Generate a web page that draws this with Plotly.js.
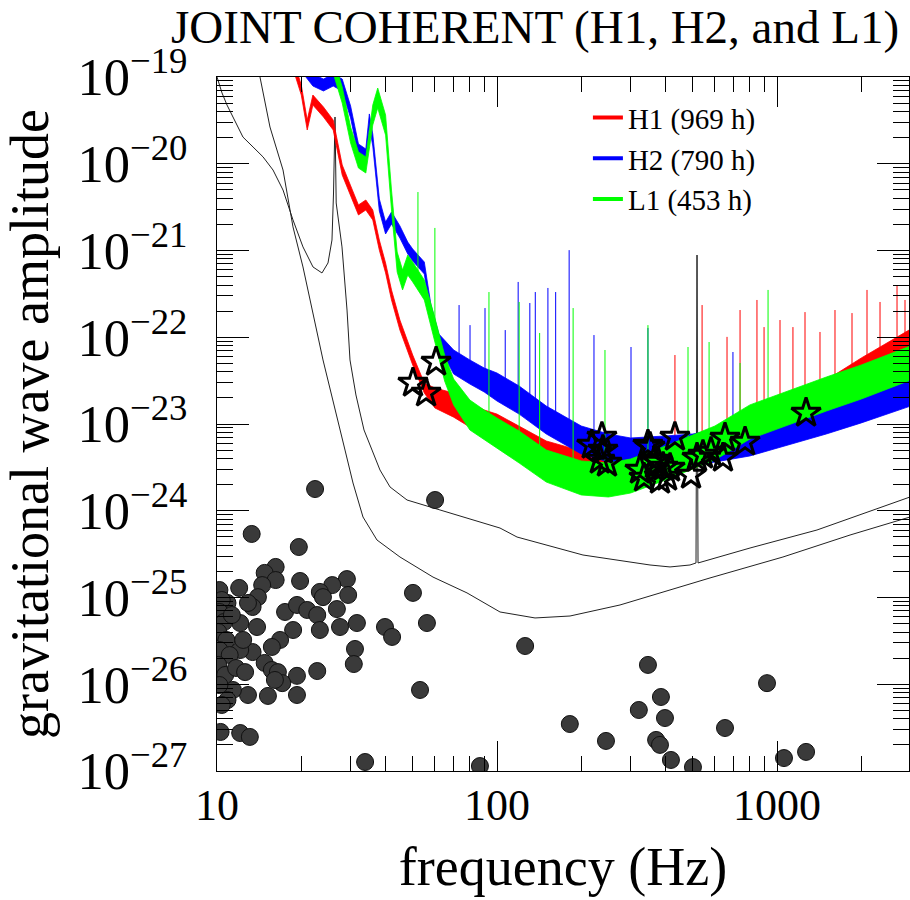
<!DOCTYPE html>
<html>
<head>
<meta charset="utf-8">
<script src="https://cdn.plot.ly/plotly-3.0.1.min.js"></script>
<style>html,body{margin:0;padding:0;background:#fff}#chart{width:910px;height:900px}</style>
</head>
<body>
<div id="chart"></div>
<script>
// ---------- reference sensitivity curves (thin black lines) ----------
const curveAFreq = [10,10.42,10.86,11.40,12.38,13.45,14.60,15.85,17.21,18.68,20.28,22.02,23.71,24.91,25.74,26.07,26.28,26.39,26.65,27.95,29.13,29.85,31.35,33.50,35.78,38.20,41.49,47.72,59.08,78.13,102.5,117.9,202.8,351.9,414.9,489.0,513.7,518.0,522.3,801.1,1389,2985];
const curveAAmp  = [1.0e-19,6.55e-20,4.75e-20,3.46e-20,2.03e-20,1.56e-20,1.20e-20,8.47e-21,4.98e-21,2.25e-21,1.10e-21,6.46e-22,5.51e-22,7.18e-22,1.32e-21,4.60e-21,1.73e-20,3.46e-20,3.53e-21,1.10e-21,2.06e-22,5.47e-23,2.16e-23,8.53e-24,5.01e-24,2.95e-24,1.88e-24,1.33e-24,1.08e-24,8.24e-25,6.32e-25,4.98e-25,3.09e-25,2.37e-25,2.25e-25,2.37e-25,2.50e-25,8.87e-22,2.50e-25,3.72e-25,6.00e-25,1.44e-24];
const curveBFreq = [14.24,15.46,17.21,18.68,20.28,22.02,23.91,28.65,30.60,33.22,37.27,45.03,59.08,78.13,102.5,136.7,182.3,275.0,576.4,1050,1823,2985];
const curveBAmp  = [1.0e-19,2.65e-20,8.47e-21,1.87e-21,6.46e-22,1.91e-22,5.47e-23,5.01e-24,2.09e-24,8.47e-25,4.60e-25,2.93e-25,1.72e-25,1.13e-25,6.81e-26,5.81e-26,6.12e-26,8.20e-26,1.68e-25,2.93e-25,5.25e-25,8.47e-25];

// ---------- detector noise bands (upper / lower envelopes) ----------
const h1Freq  = [19,20,21,22,24,26,28,30,32,34,36,38,40,42,45,50,55,60,70,80,90,100,120,150,200,250,300,400,500,600,800,1000,1500,2000,3000];
const h1Upper = [1.37e-19,8.09e-20,3.19e-20,6.20e-20,4.51e-20,3.19e-20,9.68e-21,5.69e-21,3.35e-21,3.82e-21,2.93e-21,1.32e-21,7.18e-22,3.51e-22,1.58e-22,6.24e-23,2.97e-23,2.60e-23,2.28e-23,1.75e-23,1.45e-23,1.30e-23,9.48e-24,6.37e-24,4.89e-24,4.28e-24,4.28e-24,5.15e-24,6.37e-24,8.30e-24,1.17e-23,1.61e-23,3.21e-23,5.77e-23,1.24e-22];
const h1Lower = [1.05e-19,6.20e-20,2.45e-20,4.75e-20,3.46e-20,2.45e-20,7.42e-21,4.36e-21,2.57e-21,2.93e-21,2.25e-21,1.01e-21,5.51e-22,2.69e-22,1.21e-22,4.79e-23,2.28e-23,1.53e-23,1.20e-23,9.23e-24,7.67e-24,6.21e-24,4.51e-24,3.03e-24,2.32e-24,2.03e-24,2.03e-24,2.45e-24,3.03e-24,3.95e-24,5.57e-24,7.67e-24,1.53e-23,2.74e-23,6.24e-23];

const h2Freq  = [20,22,24,26,28,30,32,34,35,36,38,40,42,45,48,50,55,58,62,70,80,90,100,120,150,200,250,300,400,500,600,800,1000,1500,2000,3000];
const h2Upper = [1.61e-19,1.08e-19,9.48e-20,1.08e-19,9.48e-20,4.63e-20,1.69e-20,1.48e-20,3.75e-20,2.20e-20,3.93e-21,2.13e-21,2.78e-21,1.92e-21,1.25e-21,1.04e-21,7.37e-22,2.42e-22,1.09e-22,7.13e-23,5.47e-23,4.42e-23,3.87e-23,2.74e-23,1.61e-23,9.48e-24,7.67e-24,6.90e-24,7.28e-24,7.67e-24,8.53e-24,1.00e-23,1.24e-23,1.79e-23,2.40e-23,3.77e-23];
const h2Lower = [1.17e-19,7.87e-20,6.90e-20,7.87e-20,6.90e-20,3.37e-20,1.23e-20,1.08e-20,2.72e-20,1.60e-20,2.85e-21,1.55e-21,2.02e-21,1.39e-21,9.12e-22,7.57e-22,5.36e-22,1.76e-22,7.93e-23,3.77e-23,2.89e-23,2.34e-23,1.84e-23,1.30e-23,7.67e-24,4.51e-24,3.65e-24,3.28e-24,3.11e-24,3.28e-24,3.65e-24,4.28e-24,5.29e-24,7.67e-24,1.03e-23,1.61e-23];

const l1Freq  = [26,28,30,32,34,36,37.5,40,42,44,46,48,50,55,60,65,70,80,90,100,120,150,200,250,300,400,500,600,800,1000,1500,2000,3000];
const l1Upper = [1.70e-19,7.67e-20,2.65e-20,1.37e-20,1.20e-20,4.75e-20,7.46e-20,3.65e-20,4.98e-21,9.61e-22,5.96e-22,8.87e-22,7.37e-22,4.57e-22,1.67e-22,6.24e-23,3.30e-23,1.89e-23,1.45e-23,1.17e-23,8.30e-24,5.01e-24,3.75e-24,3.55e-24,3.95e-24,5.57e-24,7.46e-24,9.48e-24,1.66e-23,2.16e-23,3.48e-23,4.79e-23,7.93e-23];
const l1Lower = [1.11e-19,5.01e-20,1.73e-20,8.93e-21,7.82e-21,2.80e-20,4.39e-20,2.14e-20,2.93e-21,5.65e-22,3.51e-22,5.22e-22,4.34e-22,2.69e-22,8.81e-23,3.13e-23,1.66e-23,8.53e-24,6.54e-24,5.29e-24,3.55e-24,2.14e-24,1.52e-24,1.44e-24,1.60e-24,2.26e-24,3.03e-24,3.85e-24,6.71e-24,8.75e-24,1.41e-23,1.94e-23,3.21e-23];

// ---------- narrow spectral lines (frequency, foot, top) ----------
const h1LineFreq = [432,540,663,738,848,899,1025,1140,1259,1424,1611,1853,2096,2333,2683,2865];
const h1LineFoot = [3.85e-24,5.73e-24,8.53e-24,7.46e-24,9.73e-24,1.11e-23,1.27e-23,1.45e-23,1.66e-23,1.89e-23,2.16e-23,2.60e-23,3.05e-23,3.67e-23,4.79e-23,5.47e-23];
const h1LineTop  = [6.24e-23,2.35e-22,1.01e-22,2.06e-22,2.69e-22,1.31e-22,1.58e-22,1.31e-22,1.95e-22,1.15e-22,2.06e-22,1.90e-22,3.51e-22,2.55e-22,4.00e-22,2.69e-22];
const h2LineFreq = [73.2,80.1,90.6,107,119,131,137,152,162,181,222,301,346,696];
const h2LineFoot = [4.79e-23,4.19e-23,3.21e-23,2.47e-23,1.89e-23,1.45e-23,1.27e-23,1.11e-23,9.73e-24,6.54e-24,6.04e-24,4.75e-24,5.01e-24,6.54e-24];
const h2LineTop  = [2.35e-22,1.38e-22,2.17e-22,1.21e-22,4.34e-22,2.48e-22,3.32e-22,3.70e-22,3.32e-22,1.01e-21,1.06e-22,7.72e-23,1.28e-22,6.76e-23];
const l1LineFreq = [52.2,60.0,93.6,120,142,187,243,346,481,572,738,929];
const l1LineFoot = [5.22e-22,1.21e-22,8.99e-24,5.43e-24,3.85e-24,2.58e-24,2.26e-24,2.95e-24,4.39e-24,5.73e-24,9.73e-24,1.27e-23];
const l1LineTop  = [4.72e-21,1.82e-21,3.32e-22,2.55e-22,1.12e-22,2.17e-22,7.13e-23,1.38e-22,7.72e-23,8.81e-23,5.05e-23,3.51e-22];

// ---------- pulsar upper limits (stars) ----------
const starFreq = [50.1,55.8,60.6,218,237,233,247,239,346,335,376,415,432,493,518,581,652,769,641,1270,392,366,405,544,352,324,382];
const starAmp  = [2.97e-23,2.28e-23,5.19e-23,5.73e-24,7.08e-24,3.85e-24,3.55e-24,5.01e-24,5.73e-24,2.39e-24,3.65e-24,3.11e-24,7.08e-24,2.58e-24,4.06e-24,4.75e-24,6.90e-24,6.21e-24,4.06e-24,1.34e-23,3.19e-24,3.85e-24,2.45e-24,4.39e-24,5.43e-24,2.95e-24,2.26e-24];

// ---------- spin-down limits (hatched circles) ----------
const spinFreq = [22.4,60.1,13.3,19.6,16.2,14.8,16.2,14.5,12.0,19.8,29.1,25.8,29.4,23.3,23.9,14.0,13.4,12.9,17.5,19.3,21.0,26.8,22.8,50.1,31.6,27.5,23.3,39.8,42.2,56.2,18.7,13.9,12.1,10.9,10.9,16.8,15.7,31.1,30.8,13.4,12.1,14.8,15.7,16.5,22.8,19.3,17.1,16.1,12.9,15.2,19.3,11.4,53.1,10.3,12.1,13.1,33.8,86.9,126,346,385,321,398,370,382,182,245,652,921,501,1059,1270,418,10.2,10.4,10.2,10.6,10.1,10.8,10.2,11.1,10.1,10.7,11.7,10.2,10.9,12.6,12.4,11.3,10.4];
const spinAmp  = [1.78e-24,1.33e-24,5.40e-25,3.82e-25,2.25e-25,1.92e-25,1.59e-25,1.39e-25,1.29e-25,1.55e-25,1.63e-25,1.39e-25,1.07e-25,1.16e-25,1.01e-25,1.01e-25,7.77e-26,8.65e-26,6.81e-26,8.20e-26,7.18e-26,7.36e-26,6.28e-26,1.13e-25,5.08e-26,4.57e-26,4.22e-26,4.57e-26,3.51e-26,5.08e-26,4.22e-26,4.57e-26,5.08e-26,6.62e-26,8.65e-26,3.24e-26,2.69e-26,2.55e-26,1.71e-26,2.35e-26,2.48e-26,1.76e-26,1.46e-26,1.38e-26,1.42e-26,1.25e-26,1.03e-26,1.12e-26,7.52e-27,7.33e-27,7.52e-27,8.59e-27,8.59e-27,2.82e-27,2.74e-27,2.47e-27,1.27e-27,1.14e-27,2.76e-26,1.67e-26,7.13e-27,5.05e-27,4.08e-27,2.28e-27,2.00e-27,3.48e-27,2.22e-27,3.13e-27,1.03e-26,1.11e-27,1.41e-27,1.66e-27,1.34e-27,1.22e-25,9.36e-26,6.81e-26,5.22e-26,4.00e-26,3.24e-26,2.48e-26,2.17e-26,1.67e-26,1.28e-26,1.54e-26,9.80e-27,6.58e-27,1.38e-26,3.24e-26,6.28e-26,5.77e-27];

const detectorNames = ['H1 (969 h)','H2 (790 h)','L1 (453 h)'];
const detectorColors = ['#ff0000','#0000ff','#00ff00'];

// ---------- builders ----------
function band(f, up, lo, color){
  return {x: f.concat(f.slice().reverse()), y: up.concat(lo.slice().reverse()),
    type:'scatter', mode:'lines', fill:'toself', fillcolor:color,
    line:{color:color, width:0.8}, showlegend:false, hoverinfo:'skip'};
}
function lines(f, foot, top, color){
  const x=[], y=[];
  for(let i=0;i<f.length;i++){ x.push(f[i],f[i],null); y.push(foot[i],top[i],null); }
  return {x:x, y:y, type:'scatter', mode:'lines', line:{color:color, width:1}, showlegend:false, connectgaps:false, hoverinfo:'skip'};
}
const serif = 'Liberation Serif, Times New Roman, serif';

const traces = [
  {x:curveAFreq, y:curveAAmp, type:'scatter', mode:'lines', line:{color:'#222', width:1}, showlegend:false},
  {x:curveBFreq, y:curveBAmp, type:'scatter', mode:'lines', line:{color:'#222', width:1}, showlegend:false},
  band(h1Freq, h1Upper, h1Lower, detectorColors[0]),
  lines(h1LineFreq, h1LineFoot, h1LineTop, detectorColors[0]),
  band(h2Freq, h2Upper, h2Lower, detectorColors[1]),
  lines(h2LineFreq, h2LineFoot, h2LineTop, detectorColors[1]),
  band(l1Freq, l1Upper, l1Lower, detectorColors[2]),
  lines(l1LineFreq, l1LineFoot, l1LineTop, detectorColors[2]),
  {x:spinFreq, y:spinAmp, type:'scatter', mode:'markers', showlegend:false,
   marker:{symbol:'circle', size:17, color:'#3a3a3a', line:{color:'#111', width:1}}},
  {x:starFreq, y:starAmp, type:'scatter', mode:'markers', showlegend:false,
   marker:{symbol:'star-open', size:22, color:'#000', line:{width:3}}}
];
// legend keys
for(let k=0;k<3;k++){
  traces.push({x:[null], y:[null], type:'scatter', mode:'lines', name:detectorNames[k],
    line:{color:detectorColors[k], width:4}, showlegend:true});
}

const axisCommon = {
  type:'log', showline:true, linecolor:'#000', linewidth:1.2, mirror:'allticks',
  ticks:'inside', tickcolor:'#000', tickwidth:1, dtick:1, showgrid:false, zeroline:false,
  automargin:false
};

const layout = {
  width:910, height:900,
  margin:{l:217, r:1, t:77, b:129},
  paper_bgcolor:'#fff', plot_bgcolor:'#fff',
  title:{text:'JOINT COHERENT (H1, H2, and L1)', font:{family:serif, size:47, color:'#000'},
         xref:'container', x:0.588, xanchor:'center', yref:'container', y:0.97, yanchor:'middle'},
  xaxis:Object.assign({}, axisCommon, {
    range:[1, 3.4714], ticklen:30, exponentformat:'none',
    tickfont:{family:serif, size:44, color:'#000'}, ticklabelstandoff:-5,
    minor:{ticks:'inside', ticklen:15, dtick:'D1', tickcolor:'#000', tickwidth:1, showgrid:false},
    title:{text:'frequency (Hz)', font:{family:serif, size:54, color:'#000'}, standoff:18}
  }),
  yaxis:Object.assign({}, axisCommon, {
    range:[-27, -19], ticklen:32, exponentformat:'power',
    tickfont:{family:serif, size:42, color:'#000'}, ticklabelstandoff:20,
    minor:{ticks:'inside', ticklen:16, dtick:'D1', tickcolor:'#000', tickwidth:1, showgrid:false},
    title:{text:'gravitational wave amplitude', font:{family:serif, size:54, color:'#000'}, standoff:20}
  }),
  legend:{x:0.536, y:0.978, xanchor:'left', yanchor:'top', bgcolor:'rgba(0,0,0,0)',
          font:{family:serif, size:29, color:'#000'}, itemwidth:30, borderwidth:0, tracegroupgap:0},
  showlegend:true
};

Plotly.newPlot('chart', traces, layout, {displayModeBar:false, staticPlot:true});
</script>
</body>
</html>
